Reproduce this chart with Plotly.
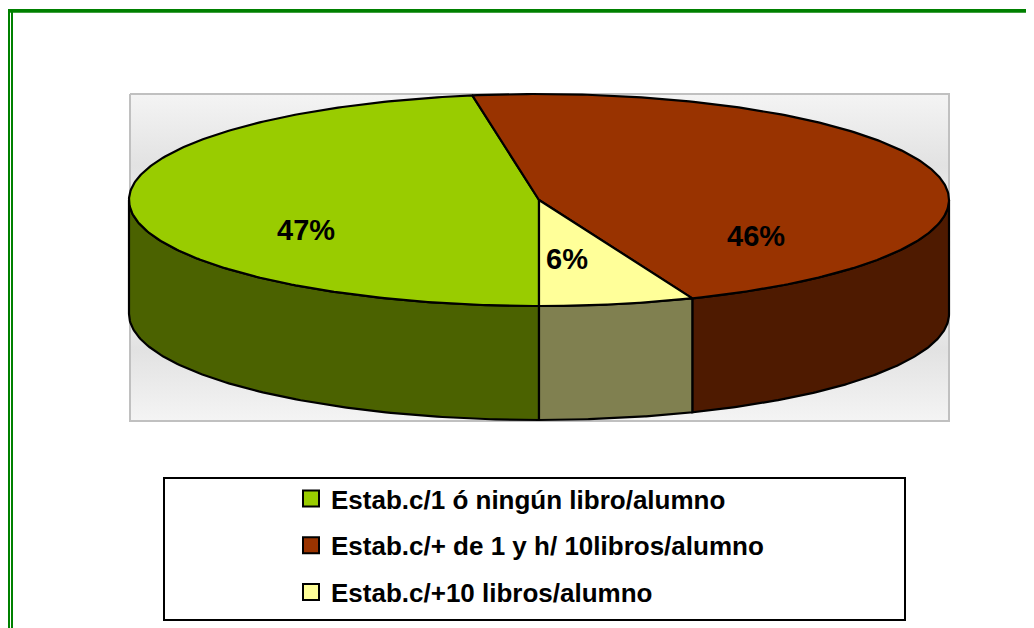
import numpy as np
import plotly.graph_objects as go

# ---- data ----
categories = ["Estab.c/1 ó ningún libro/alumno",
              "Estab.c/+ de 1 y h/ 10libros/alumno",
              "Estab.c/+10 libros/alumno"]
values = [47.4, 46.5, 6.1]
top_colors = ["#99CC00", "#993300", "#FFFF99"]
side_colors = ["#4B6200", "#4E1A00", "#808050"]

# ---- page geometry (pixel space; page body has an 8px margin) ----
PAGE_W, PAGE_H = 1034, 628
OFF = 8
FW, FH = PAGE_W - OFF, PAGE_H - OFF
cx, cy, rx, ry, depth = 539, 200, 410, 106, 114
start_angle = 180.0  # degrees clockwise from 12 o'clock

fracs = np.array(values) / np.sum(values)
bounds = start_angle + np.concatenate([[0], np.cumsum(fracs) * 360])


def pt(theta_deg, dy=0.0):
    t = np.radians(theta_deg)
    return cx + rx * np.sin(t), cy - ry * np.cos(t) + dy


fig = go.Figure()

# plot-area background with vertical gradient
fig.add_trace(go.Scatter(
    x=[130, 949, 949, 130, 130], y=[94, 94, 421, 421, 94],
    mode="lines", fill="toself", line=dict(color="#C0C0C0", width=2),
    fillgradient=dict(type="vertical",
                      colorscale=[[0, "#F4F4F4"], [0.22, "#E2E2E2"], [0.5, "#FCFCFC"],
                                  [0.78, "#E2E2E2"], [1, "#F4F4F4"]]),
    hoverinfo="skip", showlegend=False))

# side faces (front half: 90..270 deg)
for i in range(len(values)):
    a, b = bounds[i], bounds[i + 1]
    for shift in (-360, 0, 360):
        lo = max(a + shift, 90)
        hi = min(b + shift, 270)
        if hi > lo:
            th = np.linspace(lo, hi, 120)
            xt, yt = pt(th)
            xb, yb = pt(th[::-1], depth)
            xs = np.concatenate([xt, xb, xt[:1]])
            ys = np.concatenate([yt, yb, yt[:1]])
            fig.add_trace(go.Scatter(
                x=xs, y=ys, mode="lines", fill="toself",
                fillcolor=side_colors[i], line=dict(color="black", width=2.2),
                hoverinfo="skip", showlegend=False))

# top faces
for i in range(len(values)):
    th = np.linspace(bounds[i], bounds[i + 1], 240)
    xa, ya = pt(th)
    xs = np.concatenate([[cx], xa, [cx]])
    ys = np.concatenate([[cy], ya, [cy]])
    fig.add_trace(go.Scatter(
        x=xs, y=ys, mode="lines", fill="toself",
        fillcolor=top_colors[i], line=dict(color="black", width=2.2),
        hoverinfo="skip", showlegend=False))

# percentage labels
lab_r = [0.57, 0.55, 0.36]
lab_dy = [25, 52, 22]
for i, v in enumerate(values):
    mid = (bounds[i] + bounds[i + 1]) / 2
    t = np.radians(mid)
    lx = cx + rx * lab_r[i] * np.sin(t)
    ly = cy - ry * lab_r[i] * np.cos(t) + lab_dy[i]
    fig.add_annotation(x=lx, y=ly, text=f"{round(v)}%", showarrow=False,
                       font=dict(family="Liberation Sans, Arial", size=29,
                                 color="black", weight="bold"))

# legend entries
for i, name in enumerate(categories):
    fig.add_trace(go.Scatter(
        x=[None], y=[None], mode="markers", name=name, legendgroup=str(i),
        marker=dict(symbol="square", size=16, color=top_colors[i],
                    line=dict(color="black", width=2))))

shapes = [
    # green outer frame
    dict(type="rect", x0=7, x1=PAGE_W + 5, y0=9, y1=12.7, fillcolor="#008000",
         line=dict(width=0), layer="above"),
    dict(type="rect", x0=8, x1=10, y0=9, y1=PAGE_H + 5, fillcolor="#008000",
         line=dict(width=0), layer="above"),
    dict(type="rect", x0=11, x1=13, y0=9, y1=PAGE_H + 5, fillcolor="#008000",
         line=dict(width=0), layer="above"),
    # legend box
    dict(type="rect", x0=164, x1=905, y0=478, y1=620,
         line=dict(color="black", width=2), fillcolor="rgba(0,0,0,0)", layer="below"),
]

fig.update_layout(
    width=FW, height=FH, margin=dict(l=0, r=0, t=0, b=0),
    paper_bgcolor="white", plot_bgcolor="white",
    xaxis=dict(range=[OFF, PAGE_W], visible=False, fixedrange=True),
    yaxis=dict(range=[PAGE_H, OFF], visible=False, fixedrange=True),
    shapes=shapes,
    showlegend=True,
    legend=dict(x=(291 - OFF) / FW, y=1 - (475 - OFF) / FH,
                xanchor="left", yanchor="top",
                bgcolor="rgba(0,0,0,0)", borderwidth=0,
                traceorder="grouped", tracegroupgap=10,
                font=dict(family="Liberation Sans, Arial", size=26,
                          color="black", weight="bold")),
)

fig.write_html("out.html")
